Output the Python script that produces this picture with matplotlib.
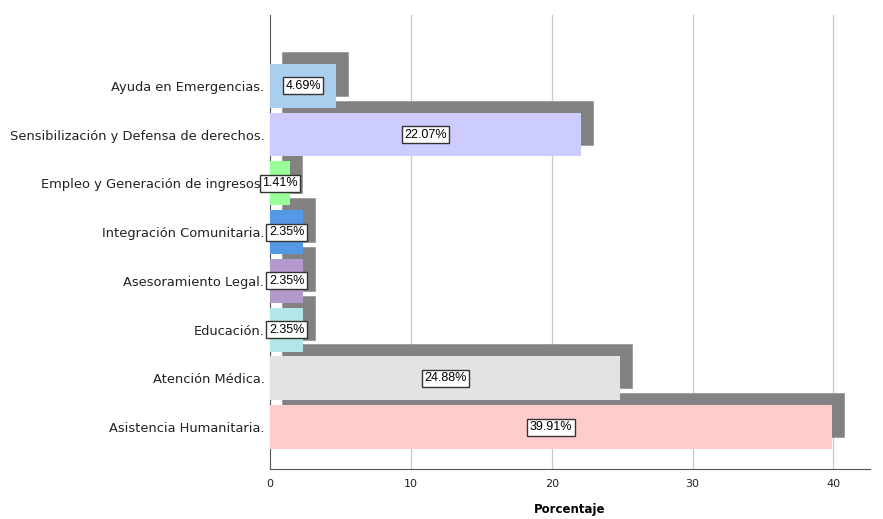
import matplotlib
matplotlib.use("Agg")
import matplotlib.pyplot as plt

categories = ["Asistencia Humanitaria.", "Atención Médica.", "Educación.", "Asesoramiento Legal.",
              "Integración Comunitaria.", "Empleo y Generación de ingresos.",
              "Sensibilización y Defensa de derechos.", "Ayuda en Emergencias."]
values = [39.91, 24.88, 2.35, 2.35, 2.35, 1.41, 22.07, 4.69]
colors = ["#FFCCCC", "#E3E3E3", "#B3E6E6", "#B399CC", "#5599E6", "#99FF99", "#CCCCFF", "#AACFEE"]
xticks = [0, 10, 20, 30, 40]

fig = plt.figure(figsize=(8.83, 5.19), dpi=100)
ax = fig.add_axes([0.3058, 0.0963, 0.6795, 0.8747])

ypos = list(range(len(categories)))
h = 0.9
dx, dy = 0.85, 0.245
ax.barh([y + dy for y in ypos], values, left=dx, height=h, color="#828282",
        edgecolor="#9a9a9a", linewidth=0.6, zorder=2)
ax.barh(ypos, values, height=h, color=colors, edgecolor="none", zorder=3)

for y, v in zip(ypos, values):
    ax.text(v / 2, y, f"{v:.2f}%", ha="center", va="center", fontsize=9,
            family="Liberation Sans", zorder=4,
            bbox=dict(boxstyle="square,pad=0.2", facecolor="white", edgecolor="#333333", linewidth=1))

ax.set_xlim(0, 42.6)
ax.set_ylim(-0.86, 8.45)
ax.set_yticks(ypos)
ax.set_yticklabels(categories, fontsize=9.4, color="#222222")
ax.set_xticks(xticks)
ax.set_xticklabels([str(t) for t in xticks], fontsize=8, color="#222222")
ax.tick_params(axis="y", length=0, pad=4)
ax.tick_params(axis="x", length=0, pad=7)
for t in xticks[1:]:
    ax.axvline(t, color="#C8C8C8", linewidth=0.9, zorder=1)
ax.spines["top"].set_visible(False)
ax.spines["right"].set_visible(False)
ax.spines["left"].set_color("#555555")
ax.spines["bottom"].set_color("#555555")
ax.set_xlabel("Porcentaje", fontsize=8.5, fontweight="bold", labelpad=10)

fig.savefig("out.png", dpi=100)
